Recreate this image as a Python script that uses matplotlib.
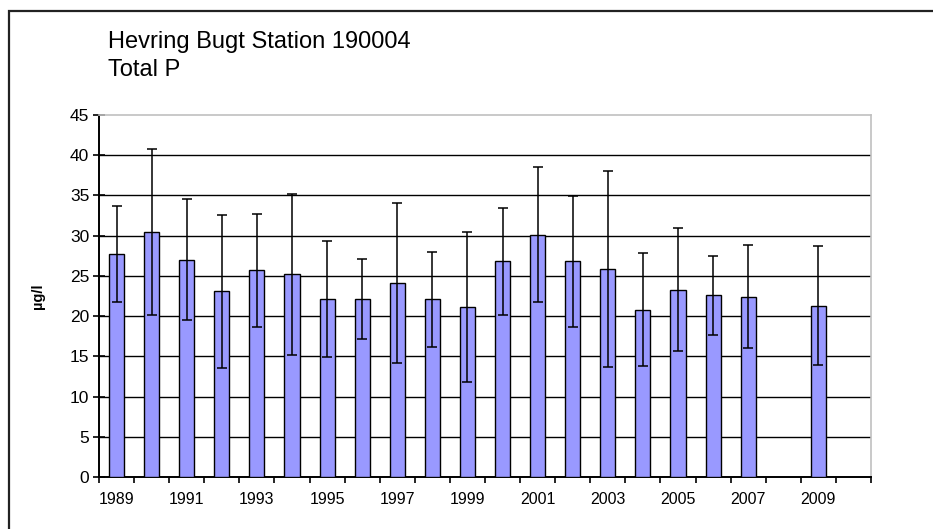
import numpy as np
import matplotlib.pyplot as plt
from matplotlib.patches import Rectangle

plt.rcParams['font.family'] = ['Liberation Sans', 'DejaVu Sans']

# årlige middelværdier og standardafvigelse (2008 og 2010 mangler)
years = [1989, 1990, 1991, 1992, 1993, 1994, 1995, 1996, 1997, 1998, 1999,
         2000, 2001, 2002, 2003, 2004, 2005, 2006, 2007, 2008, 2009, 2010]
mean = [27.7, 30.5, 27.0, 23.1, 25.7, 25.2, 22.1, 22.1, 24.1, 22.1, 21.1,
        26.8, 30.1, 26.8, 25.9, 20.8, 23.3, 22.6, 22.4, np.nan, 21.3, np.nan]
sd = [6.0, 10.3, 7.5, 9.5, 7.0, 10.0, 7.2, 5.0, 9.9, 5.9, 9.3,
      6.7, 8.4, 8.1, 12.2, 7.0, 7.6, 4.9, 6.4, np.nan, 7.4, np.nan]
labels = [str(y) if (y - 1989) % 2 == 0 and y < 2010 else '' for y in years]

fig = plt.figure(figsize=(9.33, 5.29), dpi=100)
ax = fig.add_axes([99/933, 1-477/529, 772/933, 362/529])

x = np.arange(len(years))
ax.bar(x, mean, width=0.43, color='#9999FF', edgecolor='black', linewidth=1.0, zorder=3)
ax.errorbar(x, mean, yerr=sd, fmt='none', ecolor='black', elinewidth=1.1,
            capsize=3.5, capthick=1.1, zorder=4)

ax.set_xlim(-0.5, len(years) - 0.5)
ax.set_ylim(0, 45)
ax.set_yticks(np.arange(0, 46, 5))
for v in range(5, 45, 5):
    ax.axhline(v, color='black', linewidth=1.0, zorder=1)

# kategoriakse: tick-marks mellem søjlerne, labels under søjlerne
ax.set_xticks(np.arange(-0.5, len(years), 1.0))
ax.set_xticklabels([])
ax.set_xticks(x, minor=True)
ax.set_xticklabels(labels, minor=True, fontsize=11.5)
ax.tick_params(axis='x', which='minor', length=0, pad=11)
ax.tick_params(axis='x', which='major', direction='out', length=4, width=1.2)
ax.tick_params(axis='y', direction='inout', length=8, width=1.2, labelsize=12.5, pad=3)

for s in ['top', 'right']:
    ax.spines[s].set_color('#c0c0c0')
    ax.spines[s].set_linewidth(1.2)
for s in ['left', 'bottom']:
    ax.spines[s].set_color('black')
    ax.spines[s].set_linewidth(1.4)

ax.set_ylabel('µg/l', fontsize=10.5, fontweight='bold', labelpad=18)

fig.text(108/933, 1-48/529, 'Hevring Bugt Station 190004', fontsize=17)
fig.text(108/933, 1-76/529, 'Total P', fontsize=17)

# ramme om hele diagrammet
fig.patches.append(Rectangle((9/933, -0.1), 1.2, 1-11/529+0.1, transform=fig.transFigure,
                             fill=False, edgecolor='#222222', linewidth=1.6))

fig.savefig('out.png', dpi=100)
